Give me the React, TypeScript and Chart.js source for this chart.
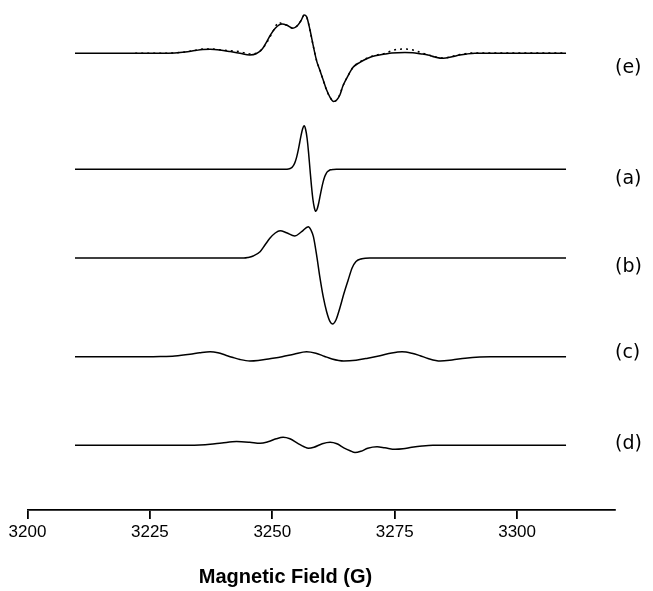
import React, { useEffect, useRef } from 'react';
import { Chart, registerables } from 'chart.js';

Chart.register(...registerables);

// ---------- data ----------
const xTicks = [3200, 3225, 3250, 3275, 3300];
const xMin = 3200;
const xMax = 3320;
const axisTitle = 'Magnetic Field (G)';
const spectrumNames = ['(e)', '(a)', '(b)', '(c)', '(d)'];
// vertical stacking offsets of each trace (same order as names)
const baselines = [456.7, 340.7, 252, 153.3, 64.7];
const labelLevels = [442, 331, 242.5, 157, 66];

// (e) simulated sum (solid)
const specE: [number, number][] = [
  [3209.7, 0], [3227.1, 0], [3230.1, 0.3], [3232.2, 1.2], [3234.2, 2.7], [3235.8, 3.7],
  [3237.3, 4], [3239.3, 3.3], [3241.4, 1.7], [3243.4, 0], [3245.4, -1.7], [3246.7, -0.5],
  [3247.9, 4], [3248.9, 12], [3249.7, 19], [3250.6, 25], [3251.4, 28.5], [3252.0, 29.3],
  [3253.0, 28], [3254.2, 25], [3255.2, 28], [3255.9, 33], [3256.5, 38.3], [3257.0, 36.7],
  [3257.7, 23.3], [3258.4, 6.7], [3259.1, -8.3], [3259.7, -16.7], [3260.4, -26.7],
  [3261.1, -36.7], [3261.8, -44], [3262.5, -48.3], [3263.2, -46.5], [3263.8, -41.7],
  [3264.4, -33], [3265.3, -24], [3266.5, -14], [3267.9, -9], [3269.5, -5], [3271.0, -2.5],
  [3273.0, -0.8], [3274.4, 0.3], [3277.1, 0.8], [3278.7, 0.5], [3280.2, -0.5], [3281.8, -1.7],
  [3283.2, -3.7], [3284.9, -5], [3286.7, -3.5], [3288.3, -1.7], [3289.8, -0.6], [3291.4, 0],
  [3310.0, 0],
];

// (e) experimental (dotted)
const specEexp: [number, number][] = [
  [3222.0, 0], [3227.1, 0], [3230.1, 0.5], [3232.2, 1.3], [3234.2, 3], [3235.8, 4.3],
  [3237.3, 4.3], [3239.3, 3.5], [3241.4, 2.6], [3243.4, 1.6], [3245.4, -0.6], [3246.7, 0],
  [3247.9, 4], [3248.9, 11], [3249.7, 18], [3250.6, 26], [3251.2, 31], [3252.0, 29.5],
  [3253.0, 28], [3254.2, 25], [3255.2, 28], [3255.9, 33], [3256.5, 38], [3257.0, 36.5],
  [3257.7, 23], [3258.4, 6.5], [3259.1, -8], [3259.7, -16], [3260.4, -27], [3261.1, -37],
  [3261.8, -44], [3262.5, -48], [3263.2, -46.5], [3263.8, -41], [3264.4, -33], [3265.3, -24],
  [3266.5, -14], [3267.9, -8.5], [3269.5, -4.5], [3271.0, -2], [3273.0, 0], [3274.4, 2.5],
  [3275.5, 4], [3277.1, 4.2], [3278.5, 3.6], [3280.2, 1], [3281.8, -1.5], [3283.2, -3.5],
  [3284.9, -4.8], [3286.7, -3.2], [3288.3, -1.2], [3289.8, 0], [3291.4, 0.3], [3310.0, 0.3],
];

// (a) narrow component
const specA: [number, number][] = [
  [3209.7, 0], [3252.3, 0], [3252.9, 0.1], [3253.5, 0.5], [3253.8, 1.2], [3254.1, 2.4],
  [3254.4, 4.4], [3254.7, 7.8], [3255.0, 12.7], [3255.3, 19.2], [3255.6, 26.8], [3255.9, 34.5],
  [3256.2, 40.6], [3256.5, 43.5], [3256.8, 40.1], [3257.1, 31.3], [3257.4, 17.2], [3257.7, 0],
  [3258.0, -16.6], [3258.3, -30.2], [3258.6, -38.7], [3258.9, -42], [3259.2, -39.2],
  [3259.5, -33.3], [3259.8, -25.9], [3260.1, -18.5], [3260.4, -12.3], [3260.7, -7.5],
  [3261.0, -4.3], [3261.3, -2.3], [3261.6, -1.2], [3261.9, -0.5], [3262.5, -0.1], [3263.1, 0],
  [3310.0, 0],
];

// (b) anisotropic component
const specB: [number, number][] = [
  [3209.7, 0], [3243.5, 0], [3244.2, 0], [3245.0, 0.5], [3246.1, 2], [3247.5, 6.3],
  [3248.5, 13], [3249.5, 19.7], [3250.6, 25], [3251.6, 27.3], [3252.9, 25.3], [3254.6, 22],
  [3256.0, 26.3], [3257.35, 31.3], [3257.9, 28], [3258.4, 21.3], [3259.1, 1.3], [3259.7, -18.7],
  [3260.4, -38.7], [3261.1, -53.7], [3261.8, -63.7], [3262.3, -66], [3263.0, -62],
  [3263.8, -50], [3264.6, -36], [3265.5, -22], [3266.3, -10], [3267.1, -3.5], [3268.3, -0.8],
  [3269.9, 0], [3310.0, 0],
];

// (c) triplet component
const specC: [number, number][] = [
  [3209.7, 0], [3224.4, 0], [3227.1, 0.2], [3230.1, 0.8], [3233.2, 2.5], [3235.2, 4],
  [3237.3, 5], [3238.9, 4], [3240.5, 1.5], [3241.8, -0.5], [3243.4, -2.8], [3245.4, -4.3],
  [3247.1, -3.8], [3249.5, -2], [3252.0, 0], [3254.4, 2.5], [3257.0, 5], [3258.9, 3.5],
  [3260.6, 0.5], [3262.2, -2.3], [3264.6, -4.3], [3267.1, -3.5], [3269.5, -1.5], [3272.0, 1],
  [3274.4, 3.8], [3276.5, 5], [3278.5, 3.5], [3280.2, 1], [3281.8, -1.8], [3284.3, -4.3],
  [3286.7, -3.3], [3289.4, -1.5], [3292.4, -0.3], [3294.5, 0], [3310.0, 0],
];

// (d) multi-line component
const specD: [number, number][] = [
  [3209.7, 0], [3233.2, 0], [3235.2, 0.3], [3237.3, 1], [3239.7, 2.3], [3242.7, 3.7],
  [3245.4, 3], [3247.5, 2], [3249.1, 3.5], [3250.8, 6.5], [3252.2, 8], [3253.6, 6.5],
  [3255.2, 2], [3256.5, -1.5], [3257.4, -3], [3258.5, -2], [3260.2, 1.5], [3261.8, 3],
  [3263.2, 1.5], [3264.6, -2.5], [3265.9, -5.5], [3266.9, -7.3], [3268.1, -6], [3269.5, -3],
  [3271.4, -1.5], [3273.0, -2.5], [3275.1, -4], [3276.7, -3.5], [3278.5, -2], [3280.6, -0.7],
  [3282.8, 0], [3310.0, 0],
];

// ---------- helpers ----------
const toPoints = (spec: [number, number][], base: number) =>
  spec.map(([x, s]) => ({ x, y: base + s }));

const titlePlugin = {
  id: 'fieldTitle',
  afterDraw(chart: any) {
    const { ctx } = chart;
    const xs = chart.scales.x;
    ctx.save();
    ctx.font = 'bold 20px "Liberation Sans", Arial, sans-serif';
    ctx.fillStyle = '#000';
    ctx.textAlign = 'center';
    ctx.textBaseline = 'middle';
    ctx.fillText(axisTitle, xs.left + 258, xs.bottom - 14);
    ctx.restore();
  },
};

export default function App() {
  const ref = useRef<HTMLCanvasElement | null>(null);

  useEffect(() => {
    if (!ref.current) return;
    const lineStyle = {
      borderColor: '#000',
      borderWidth: 1.5,
      pointRadius: 0,
      fill: false,
      cubicInterpolationMode: 'monotone' as const,
      yAxisID: 'y',
      order: 1,
    };
    const chart = new Chart(ref.current, {
      type: 'line',
      data: {
        datasets: [
          { ...lineStyle, label: 'e-exp', data: toPoints(specEexp, baselines[0]), borderDash: [2, 4], order: 2 },
          { ...lineStyle, label: 'e', data: toPoints(specE, baselines[0]) },
          { ...lineStyle, label: 'a', data: toPoints(specA, baselines[1]) },
          { ...lineStyle, label: 'b', data: toPoints(specB, baselines[2]) },
          { ...lineStyle, label: 'c', data: toPoints(specC, baselines[3]) },
          { ...lineStyle, label: 'd', data: toPoints(specD, baselines[4]) },
        ],
      },
      options: {
        animation: false,
        responsive: false,
        parsing: true,
        layout: { padding: { left: 27.5, top: 0, right: 0, bottom: 0 } },
        plugins: { legend: { display: false }, tooltip: { enabled: false } },
        scales: {
          x: {
            type: 'linear',
            position: 'bottom',
            min: xMin,
            max: xMax,
            afterBuildTicks: (s: any) => {
              s.ticks = xTicks.map((v) => ({ value: v }));
            },
            afterFit: (s: any) => {
              s.height = 81;
            },
            grid: {
              display: true,
              drawOnChartArea: false,
              drawTicks: true,
              tickLength: 9,
              color: '#000',
              lineWidth: 1.8,
            },
            border: { display: true, color: '#000', width: 1.8 },
            ticks: {
              padding: 3,
              color: '#000',
              autoSkip: false,
              maxRotation: 0,
              font: { size: 17, family: '"Liberation Sans", Arial, sans-serif' },
              callback: (v: any) => String(v),
            },
          },
          y: {
            type: 'linear',
            display: false,
            min: 0,
            max: 510,
            afterFit: (s: any) => {
              s.paddingTop = 0;
              s.paddingBottom = 0;
            },
          },
          yl: {
            type: 'linear',
            position: 'right',
            min: 0,
            max: 510,
            afterBuildTicks: (s: any) => {
              s.ticks = labelLevels.map((v) => ({ value: v }));
            },
            afterFit: (s: any) => {
              s.width = 38;
              s.paddingTop = 0;
              s.paddingBottom = 0;
            },
            grid: { display: false, drawTicks: false },
            border: { display: false },
            ticks: {
              padding: 0,
              color: '#000',
              autoSkip: false,
              font: { size: 19, family: '"DejaVu Sans", sans-serif' },
              callback: (_v: any, i: number) => spectrumNames[i],
            },
          },
        },
      },
      plugins: [titlePlugin],
    });
    return () => chart.destroy();
  }, []);

  return (
    <div style={{ position: 'absolute', left: 0, top: 0, width: 653, height: 591, background: '#fff' }}>
      <canvas ref={ref} width={653} height={591} style={{ display: 'block' }} />
    </div>
  );
}
